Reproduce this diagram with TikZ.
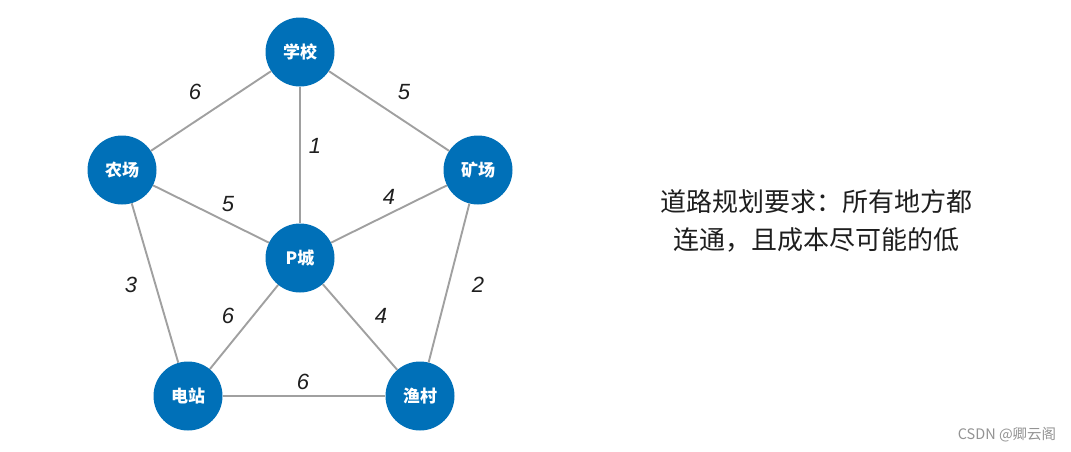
\documentclass[tikz,border=0pt]{standalone}
\usepackage{fontspec}
\setmainfont{Liberation Sans}
\newfontfamily\cjk{Noto Sans CJK SC}
\definecolor{nodeblue}{RGB}{0,112,184}
\definecolor{edgegray}{RGB}{160,160,160}
\definecolor{txtdark}{RGB}{30,30,30}
\begin{document}
\begin{tikzpicture}[x=1pt,y=-1pt,
  city/.style={circle,fill=nodeblue,minimum size=69pt,inner sep=0pt,text=white,font=\fontsize{17}{17}\selectfont\bfseries\cjk},
  road/.style={draw=edgegray,line width=1.9pt},
  wt/.style={font=\fontsize{22}{22}\selectfont\itshape,text=txtdark}]
\useasboundingbox (0,0) rectangle (1071,451);
\node[city] (xx) at (300,52) {学校};
\node[city] (nc) at (122,170) {农场};
\node[city] (kc) at (478,170) {矿场};
\node[city] (pc) at (300,258) {P城};
\node[city] (dz) at (188,396) {电站};
\node[city] (yc) at (420,396) {渔村};
\draw[road] (xx) -- (nc);
\draw[road] (xx) -- (kc);
\draw[road] (xx) -- (pc);
\draw[road] (nc) -- (pc);
\draw[road] (kc) -- (pc);
\draw[road] (nc) -- (dz);
\draw[road] (kc) -- (yc);
\draw[road] (pc) -- (dz);
\draw[road] (pc) -- (yc);
\draw[road] (dz) -- (yc);
\node[wt] (w1) at (195,92) {6};
\node[wt] (w2) at (404,92) {5};
\node[wt] (w3) at (315,146) {1};
\node[wt] (w4) at (228,204) {5};
\node[wt] (w5) at (389,197) {4};
\node[wt] (w6) at (131,285) {3};
\node[wt] (w7) at (478,285) {2};
\node[wt] (w8) at (228,316) {6};
\node[wt] (w9) at (381,316) {4};
\node[wt] (w10) at (303,382) {6};
\node[font=\fontsize{26}{38}\selectfont\cjk,text=txtdark,align=center] (req) at (816,221) {道路规划要求：所有地方都\\连通，且成本尽可能的低};
\node[font=\fontsize{14.5}{15}\selectfont\cjk,text=gray!85] (wm) at (1007,435) {CSDN @卿云阁};
\end{tikzpicture}
\end{document}
